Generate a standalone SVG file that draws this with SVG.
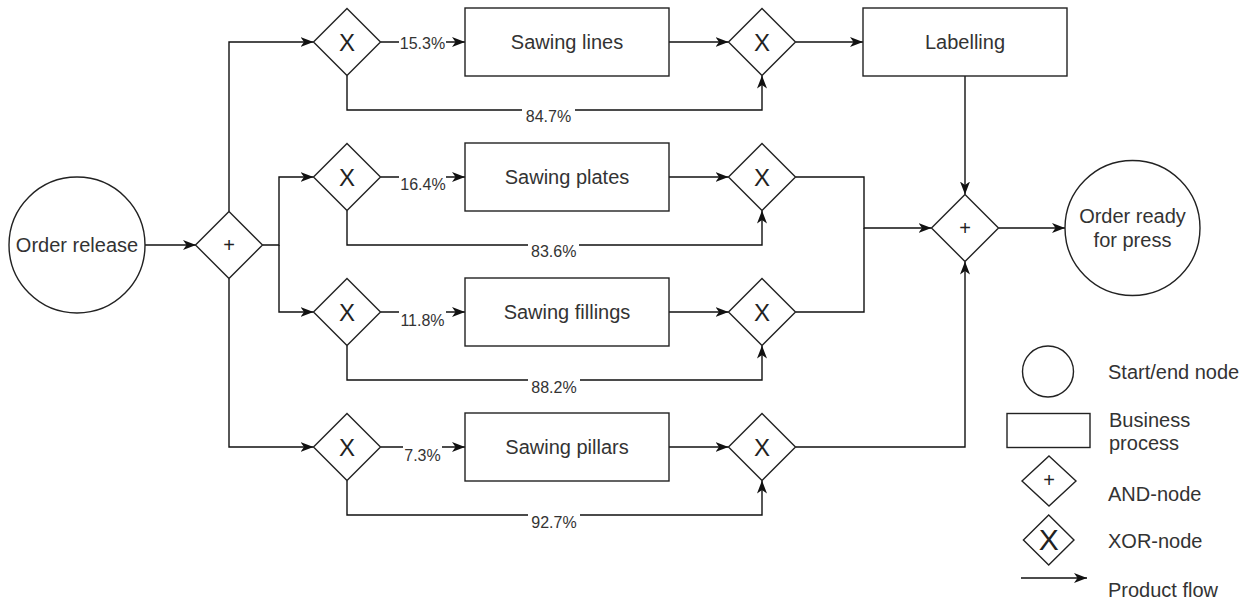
<svg xmlns="http://www.w3.org/2000/svg" width="1252" height="601" viewBox="0 0 1252 601">
<style>
.sh{fill:#fff;stroke:#222;stroke-width:1.4}
.ln{fill:none;stroke:#111;stroke-width:1.4}
.t{font-family:"Liberation Sans",Arial,sans-serif;font-size:20px;fill:#333;text-anchor:middle}
.p{font-family:"Liberation Sans",Arial,sans-serif;font-size:16px;fill:#333;text-anchor:middle}
.pl{font-family:"Liberation Sans",Arial,sans-serif;font-size:20px;fill:#222;text-anchor:middle}
.x{font-family:"Liberation Sans",Arial,sans-serif;font-size:24px;fill:#222;text-anchor:middle}
.lg{font-family:"Liberation Sans",Arial,sans-serif;font-size:20px;fill:#333}
.bg{fill:#fff}
</style>
<defs>
<marker id="a" markerWidth="14" markerHeight="12" refX="13" refY="6" orient="auto" markerUnits="userSpaceOnUse">
<path d="M0,1 L13,6 L0,11 L3.5,6 Z" fill="#111"/>
</marker>
</defs>
<g id="connectors">
<path class="ln" d="M145,245 H196" marker-end="url(#a)"/>
<path class="ln" d="M229,211.5 V42 H313.5" marker-end="url(#a)"/>
<path class="ln" d="M262.5,245 H279 V177 H313.5" marker-end="url(#a)"/>
<path class="ln" d="M279,245 V312 H313.5" marker-end="url(#a)"/>
<path class="ln" d="M229,278.5 V447 H313.5" marker-end="url(#a)"/>
<path class="ln" d="M380.5,42 H465" marker-end="url(#a)"/>
<path class="ln" d="M380.5,177 H465" marker-end="url(#a)"/>
<path class="ln" d="M380.5,312 H465" marker-end="url(#a)"/>
<path class="ln" d="M380.5,447 H465" marker-end="url(#a)"/>
<path class="ln" d="M669,42 H728.5" marker-end="url(#a)"/>
<path class="ln" d="M669,177 H728.5" marker-end="url(#a)"/>
<path class="ln" d="M669,312 H728.5" marker-end="url(#a)"/>
<path class="ln" d="M669,447 H728.5" marker-end="url(#a)"/>
<path class="ln" d="M347,75.5 V110 H762 V75.5" marker-end="url(#a)"/>
<path class="ln" d="M347,210.5 V245 H762 V210.5" marker-end="url(#a)"/>
<path class="ln" d="M347,345.5 V380 H762 V345.5" marker-end="url(#a)"/>
<path class="ln" d="M347,480.5 V515 H762 V480.5" marker-end="url(#a)"/>
<path class="ln" d="M795.5,42 H863" marker-end="url(#a)"/>
<path class="ln" d="M965,76 V194.5" marker-end="url(#a)"/>
<path class="ln" d="M795.5,177 H864 V228 H931.5" marker-end="url(#a)"/>
<path class="ln" d="M795.5,312 H864 V228"/>
<path class="ln" d="M795.5,447 H965 V261.5" marker-end="url(#a)"/>
<path class="ln" d="M998.5,228 H1065" marker-end="url(#a)"/>
<g id="labels">
<rect class="bg" x="399" y="34" width="47" height="17"/><text class="p" x="422.5" y="48.7">15.3%</text>
<rect class="bg" x="399" y="168" width="47" height="24"/><text class="p" x="423" y="189.7">16.4%</text>
<rect class="bg" x="399" y="303" width="47" height="24"/><text class="p" x="422.5" y="325.7">11.8%</text>
<rect class="bg" x="403" y="438" width="39" height="25"/><text class="p" x="422.5" y="460.7">7.3%</text>
<rect class="bg" x="522" y="107" width="53" height="17"/><text class="p" x="548.5" y="122.4">84.7%</text>
<rect class="bg" x="528" y="242" width="51" height="17"/><text class="p" x="553.7" y="257.4">83.6%</text>
<rect class="bg" x="528" y="377" width="52" height="17"/><text class="p" x="554" y="392.7">88.2%</text>
<rect class="bg" x="528" y="512" width="52" height="17"/><text class="p" x="554" y="528.4">92.7%</text>
</g>
</g>
<g id="order-release"><circle class="sh" cx="77" cy="245" r="68"/><text class="t" x="77" y="251.5">Order release</text></g>
<g id="and-split"><path class="sh" d="M229,211.5 L262.5,245 L229,278.5 L195.5,245 Z"/><text class="pl" x="229" y="252">+</text></g>
<g id="xor-split-1"><path class="sh" d="M347,8.5 L380.5,42 L347,75.5 L313.5,42 Z"/><text class="x" x="347" y="51">X</text></g>
<g id="xor-split-2"><path class="sh" d="M347,143.5 L380.5,177 L347,210.5 L313.5,177 Z"/><text class="x" x="347" y="186">X</text></g>
<g id="xor-split-3"><path class="sh" d="M347,278.5 L380.5,312 L347,345.5 L313.5,312 Z"/><text class="x" x="347" y="321">X</text></g>
<g id="xor-split-4"><path class="sh" d="M347,413.5 L380.5,447 L347,480.5 L313.5,447 Z"/><text class="x" x="347" y="456">X</text></g>
<g id="sawing-lines"><rect class="sh" x="465" y="8" width="204" height="68"/><text class="t" x="567" y="49">Sawing lines</text></g>
<g id="sawing-plates"><rect class="sh" x="465" y="143" width="204" height="68"/><text class="t" x="567" y="184">Sawing plates</text></g>
<g id="sawing-fillings"><rect class="sh" x="465" y="278" width="204" height="68"/><text class="t" x="567" y="319">Sawing fillings</text></g>
<g id="sawing-pillars"><rect class="sh" x="465" y="413" width="204" height="68"/><text class="t" x="567" y="454">Sawing pillars</text></g>
<g id="xor-merge-1"><path class="sh" d="M762,8.5 L795.5,42 L762,75.5 L728.5,42 Z"/><text class="x" x="762" y="51">X</text></g>
<g id="xor-merge-2"><path class="sh" d="M762,143.5 L795.5,177 L762,210.5 L728.5,177 Z"/><text class="x" x="762" y="186">X</text></g>
<g id="xor-merge-3"><path class="sh" d="M762,278.5 L795.5,312 L762,345.5 L728.5,312 Z"/><text class="x" x="762" y="321">X</text></g>
<g id="xor-merge-4"><path class="sh" d="M762,413.5 L795.5,447 L762,480.5 L728.5,447 Z"/><text class="x" x="762" y="456">X</text></g>
<g id="labelling"><rect class="sh" x="863" y="8" width="204" height="68"/><text class="t" x="965" y="49">Labelling</text></g>
<g id="and-merge"><path class="sh" d="M965,194.5 L998.5,228 L965,261.5 L931.5,228 Z"/><text class="pl" x="965" y="235">+</text></g>
<g id="order-ready"><circle class="sh" cx="1132.5" cy="228" r="67.5"/><text class="t" x="1132.5" y="222.5">Order ready</text><text class="t" x="1132.5" y="247">for press</text></g>
<g id="legend">
<circle class="sh" cx="1048" cy="371.5" r="25.5"/><text class="lg" x="1108" y="379.3">Start/end node</text>
<rect class="sh" x="1007" y="413.5" width="83" height="34"/><text class="lg" x="1109" y="427">Business</text><text class="lg" x="1109" y="450.3">process</text>
<path class="sh" d="M1049,456 L1076,481 L1049,506 L1022,481 Z"/><text class="pl" x="1049" y="487">+</text><text class="lg" x="1108" y="501.3">AND-node</text>
<path class="sh" d="M1048.7,515 L1074,540 L1048.7,565 L1023.4,540 Z"/><text class="x" x="1048.7" y="550" style="font-size:30px">X</text><text class="lg" x="1108" y="547.7">XOR-node</text>
<path class="ln" d="M1021,578 H1087" marker-end="url(#a)"/><text class="lg" x="1108" y="597">Product flow</text>
</g>
</svg>
